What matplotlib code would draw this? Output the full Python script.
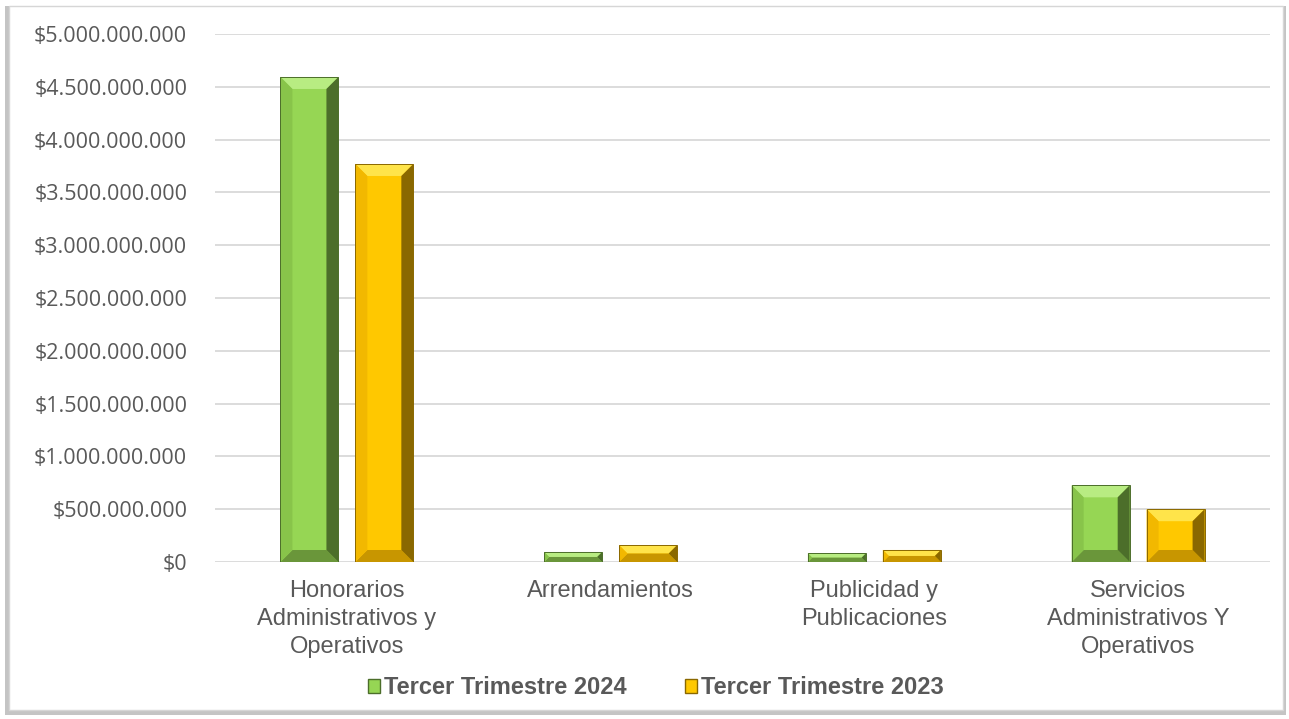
import numpy as np
import matplotlib.pyplot as plt
from matplotlib.patches import Rectangle, Polygon
from matplotlib.ticker import FuncFormatter

categories = ["Honorarios\nAdministrativos y\nOperativos", "Arrendamientos",
              "Publicidad y\nPublicaciones", "Servicios\nAdministrativos Y\nOperativos"]
series_names = ["Tercer Trimestre 2024", "Tercer Trimestre 2023"]
v2024 = [4.593e9, 0.095e9, 0.082e9, 0.726e9]
v2023 = [3.769e9, 0.160e9, 0.114e9, 0.500e9]

# base, top, left, bottom, right
green = ("#96d654", "#b8ec82", "#88c44a", "#6a963a", "#4c6e2a")
gold = ("#ffc800", "#ffe44a", "#f2b800", "#c89600", "#8a6800")

fig = plt.figure(figsize=(12.89, 7.19), dpi=100)
# frame with shadow
fig.patches.append(Rectangle((0.004, 0.006), 0.994, 0.986, transform=fig.transFigure,
                             facecolor="#c4c4c4", edgecolor="none", zorder=0))
fig.patches.append(Rectangle((0.007, 0.013), 0.988, 0.978, transform=fig.transFigure,
                             facecolor="white", edgecolor="#d6d6d6", lw=1, zorder=1))

ax = fig.add_axes([215 / 1289, 1 - 562 / 719, 1055 / 1289, 528 / 719])
ax.set_zorder(2)
ax.patch.set_alpha(0)
ax.set_xlim(-0.5, 3.5)
ax.set_ylim(0, 5e9)
ax.set_yticks(np.arange(0, 5.01e9, 0.5e9))
ax.yaxis.set_major_formatter(FuncFormatter(lambda v, p: "$" + f"{v:,.0f}".replace(",", ".")))
ax.grid(axis="y", color="#d9d9d9", lw=1.3)
ax.set_axisbelow(True)
for s in ax.spines.values():
    s.set_visible(False)
ax.tick_params(length=0)
ax.tick_params(axis="y", pad=20, labelsize=15.5, labelcolor="#595959")
ax.tick_params(axis="x", pad=13, labelsize=17, labelcolor="#595959")
for t in ax.get_yticklabels():
    t.set_fontfamily("Open Sans")
ax.set_xticks(range(len(categories)))
ax.set_xticklabels(categories, fontfamily="Liberation Sans", linespacing=1.36)

fig.canvas.draw()
x_px = ax.transData.transform([(0, 0), (1, 0)])
px_x = 1.0 / (x_px[1][0] - x_px[0][0])
y_px = ax.transData.transform([(0, 0), (0, 1e9)])
px_y = 1e9 / (y_px[1][1] - y_px[0][1])

width = 0.22
offset = 0.142


def bevel_bar(x, h, cols):
    x0, x1 = x - width / 2, x + width / 2
    b = 12
    by = min(b * px_y, h / 2)
    bx = by / px_y * px_x
    ax.add_patch(Rectangle((x0, 0), width, h, facecolor=cols[0], edgecolor="none", zorder=3))
    ax.add_patch(Polygon([(x0, h), (x1, h), (x1 - bx, h - by), (x0 + bx, h - by)],
                         facecolor=cols[1], edgecolor="none", zorder=4))
    ax.add_patch(Polygon([(x0, 0), (x1, 0), (x1 - bx, by), (x0 + bx, by)],
                         facecolor=cols[3], edgecolor="none", zorder=4))
    ax.add_patch(Polygon([(x1, 0), (x1, h), (x1 - bx, h - by), (x1 - bx, by)],
                         facecolor=cols[4], edgecolor="none", zorder=4))
    ax.add_patch(Polygon([(x0, 0), (x0, h), (x0 + bx, h - by), (x0 + bx, by)],
                         facecolor=cols[2], edgecolor="none", zorder=4))
    ax.add_patch(Rectangle((x0, 0), width, h, facecolor="none", edgecolor=cols[4], lw=0.7, zorder=5))


for i in range(len(categories)):
    bevel_bar(i - offset, v2024[i], green)
    bevel_bar(i + offset, v2023[i], gold)

handles = [Rectangle((0, 0), 1, 1, facecolor=green[0], edgecolor=green[4]),
           Rectangle((0, 0), 1, 1, facecolor=gold[0], edgecolor=gold[4])]
leg = fig.legend(handles, series_names, loc="center", bbox_to_anchor=(656 / 1289, 1 - 688 / 719),
                 ncol=2, frameon=False, handlelength=0.5, handleheight=0.5, handletextpad=0.15,
                 columnspacing=2.5, prop={"family": "Liberation Sans", "weight": "bold", "size": 17})
for t in leg.get_texts():
    t.set_color("#595959")

fig.savefig("out.png", dpi=100)
